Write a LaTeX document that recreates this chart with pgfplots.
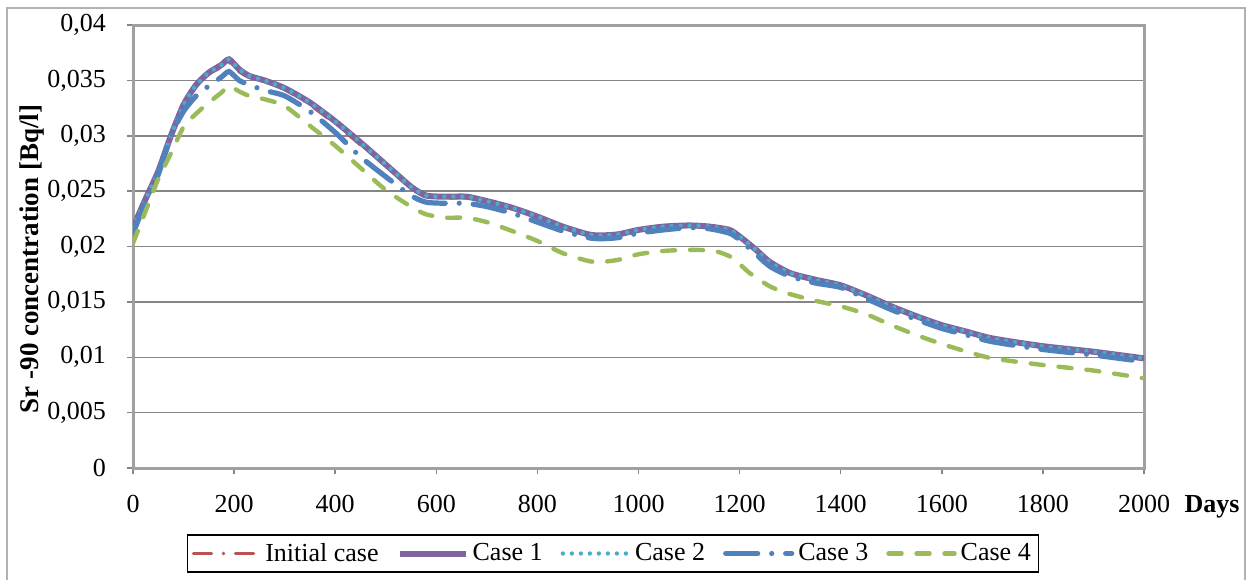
\documentclass[border=0pt]{standalone}
\usepackage{fontspec}
\setmainfont{Liberation Serif}
\usepackage{pgfplots}
\usepackage{pgfplotstable}
\pgfplotsset{compat=1.18}
\definecolor{cInit}{RGB}{192,80,77}
\definecolor{cOne}{RGB}{128,100,162}
\definecolor{cTwo}{RGB}{75,172,198}
\definecolor{cThree}{RGB}{79,129,189}
\definecolor{cFour}{RGB}{155,187,89}
\definecolor{gridc}{RGB}{134,134,134}
\definecolor{axisc}{RGB}{160,160,160}

\pgfplotstableread{
d init one two
0 0.0216 0.0217 0.0217
25 0.0242 0.0243 0.0243
50 0.0267 0.0268 0.0268
75 0.0299 0.0300 0.0300
100 0.0327 0.0328 0.0328
125 0.0345 0.0346 0.0346
150 0.0356 0.0357 0.0357
175 0.0362 0.0364 0.0364
190 0.0366 0.0369 0.0369
210 0.0358 0.0360 0.0360
230 0.0353 0.0354 0.0354
260 0.0349 0.0350 0.0350
300 0.0342 0.0343 0.0343
350 0.0328 0.0330 0.0330
400 0.0311 0.0313 0.0313
450 0.0292 0.0294 0.0294
500 0.0273 0.0274 0.0274
550 0.0253 0.0254 0.0254
580 0.0245 0.0246 0.0246
620 0.0244 0.0245 0.0245
660 0.0244 0.0245 0.0245
700 0.0240 0.0241 0.0241
750 0.0234 0.0235 0.0235
800 0.0226 0.0227 0.0227
850 0.0218 0.0218 0.0218
900 0.0211 0.0211 0.0211
925 0.0210 0.0210 0.0210
960 0.0211 0.0211 0.0211
1000 0.0215 0.0215 0.0215
1050 0.0218 0.0218 0.0218
1100 0.0219 0.0219 0.0219
1140 0.0218 0.0218 0.0218
1180 0.0215 0.0215 0.0215
1200 0.0209 0.0209 0.0209
1230 0.0198 0.0198 0.0198
1260 0.0186 0.0186 0.0186
1300 0.0176 0.0176 0.0176
1350 0.0170 0.0170 0.0170
1400 0.0165 0.0165 0.0165
1450 0.0156 0.0156 0.0156
1500 0.0146 0.0146 0.0146
1550 0.0137 0.0137 0.0137
1600 0.0129 0.0129 0.0129
1650 0.0123 0.0123 0.0123
1700 0.0117 0.0117 0.0117
1800 0.0110 0.0110 0.0110
1900 0.0105 0.0105 0.0105
2000 0.0099 0.0099 0.0099
}\mainTable

\pgfplotstableread{
d three
0 0.0212
25 0.0240
50 0.0265
75 0.0300
100 0.0322
125 0.0336
150 0.0345
175 0.0353
190 0.0358
210 0.0350
230 0.0346
260 0.0341
300 0.0336
350 0.0322
400 0.0303
450 0.0281
500 0.0263
550 0.0246
580 0.0240
620 0.0239
660 0.0239
700 0.0236
750 0.0230
800 0.0222
850 0.0214
900 0.0208
925 0.0207
960 0.0208
1000 0.0212
1050 0.0215
1100 0.0217
1140 0.0216
1180 0.0212
1200 0.0206
1230 0.0194
1260 0.0182
1300 0.0173
1350 0.0167
1400 0.0163
1450 0.0153
1500 0.0143
1550 0.0134
1600 0.0126
1650 0.0120
1700 0.0114
1800 0.0107
1900 0.0102
2000 0.0096
}\threeTable

\pgfplotstableread{
d four
0 0.0203
25 0.0232
50 0.0261
75 0.0284
100 0.0308
125 0.0320
150 0.0330
175 0.0339
190 0.0345
210 0.0340
230 0.0336
260 0.0333
300 0.0327
350 0.0309
400 0.0291
450 0.0271
500 0.0251
550 0.0236
580 0.0229
620 0.0226
660 0.0226
700 0.0222
750 0.0214
800 0.0205
850 0.0194
900 0.0187
925 0.0186
960 0.0188
1000 0.0193
1050 0.0196
1100 0.0197
1150 0.0196
1185 0.0190
1220 0.0176
1260 0.0164
1300 0.0157
1350 0.0151
1400 0.0146
1450 0.0139
1500 0.0129
1550 0.0120
1600 0.0112
1650 0.0105
1700 0.0099
1800 0.0093
1900 0.0088
2000 0.0081
}\fourTable

\begin{document}
\begin{tikzpicture}[font=\fontsize{13pt}{15pt}\selectfont]
\useasboundingbox (0,0) rectangle (623pt,289.5pt);
\draw[gray!60, line width=0.6pt] (3.5pt,-5pt) rectangle (622.5pt,285.5pt);
\begin{axis}[
  at={(66.5pt,55.5pt)}, anchor=south west,
  scale only axis, width=505.5pt, height=221.5pt,
  xmin=0, xmax=2000, ymin=0, ymax=0.04,
  xtick={0,200,400,600,800,1000,1200,1400,1600,1800,2000},
  ytick={0,0.005,0.01,0.015,0.02,0.025,0.03,0.035,0.04},
  ymajorgrids, grid style={gridc, line width=0.75pt},
  axis line style={axisc, line width=1.5pt},
  tick style={gridc, line width=0.75pt},
  tick align=outside, major tick length=3pt,
  xtick pos=bottom, ytick pos=left,
  scaled y ticks=false,
  /pgf/number format/assume math mode=true,
  yticklabel style={/pgf/number format/fixed, /pgf/number format/precision=3, /pgf/number format/use comma, xshift=-7pt},
  xticklabel style={/pgf/number format/set thousands separator={}, yshift=-7pt},
  legend columns=5,
  legend style={at={(0.475,-0.193)}, anchor=center, draw=black, line width=0.6pt,
    inner sep=2pt, font=\fontsize{13pt}{15pt}\selectfont,
    /tikz/every even column/.append style={column sep=7pt}},
  legend image code/.code={\draw[#1] (0pt,0pt) -- (33pt,0pt);},
]
\addplot[cInit, line width=1.8pt, line cap=round, dash pattern=on 9pt off 6pt on 0pt off 6pt, smooth, tension=0.4] table[x=d,y=init] {\mainTable};
\addlegendentry{Initial case}
\addplot[cOne, line width=3pt, smooth, tension=0.4] table[x=d,y=one] {\mainTable};
\addlegendentry{Case 1}
\addplot[cTwo, line width=2.2pt, line cap=round, dash pattern=on 0pt off 4.5pt, smooth, tension=0.4] table[x=d,y=two] {\mainTable};
\addlegendentry{Case 2}
\addplot[cThree, line width=2.6pt, line cap=round, dash pattern=on 16pt off 7pt on 0pt off 7pt, smooth, tension=0.4] table[x=d,y=three] {\threeTable};
\addlegendentry{Case 3}
\addplot[cFour, line width=2.2pt, line cap=round, dash pattern=on 6.5pt off 7.5pt, smooth, tension=0.4] table[x=d,y=four] {\fourTable};
\addlegendentry{Case 4}
\end{axis}
\node[rotate=90, font=\fontsize{13.5pt}{15pt}\selectfont\bfseries] at (16pt,160pt) {Sr -90 concentration [Bq/l]};
\node[font=\fontsize{13pt}{15pt}\selectfont\bfseries] at (606pt,36pt) {Days};
\end{tikzpicture}
\end{document}
